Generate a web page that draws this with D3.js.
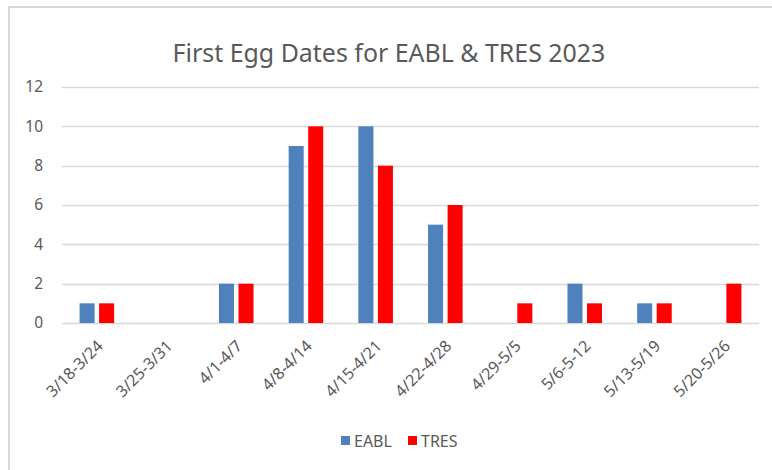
<!DOCTYPE html>
<html><head><meta charset="utf-8">
<script src="https://cdn.jsdelivr.net/npm/d3@7"></script>
<style>body{margin:0;background:#fff}svg{display:block}text{font-family:"Noto Sans",sans-serif;fill:#595959}</style>
</head><body>
<svg id="c" width="772" height="470"></svg>
<script>
const categories = ["3/18-3/24","3/25-3/31","4/1-4/7","4/8-4/14","4/15-4/21","4/22-4/28","4/29-5/5","5/6-5-12","5/13-5/19","5/20-5/26"];
const seriesNames = ["EABL","TRES"];
const eablValues = [1,0,2,9,10,5,0,2,1,0];
const tresValues = [1,0,2,10,8,6,1,1,1,2];
const yTicks = [0,2,4,6,8,10,12];
const colors = ["#4F81BD","#FF0000"];
const titleText = "First Egg Dates for EABL & TRES 2023";

(function(){
const svg = d3.select("#c");
svg.append("rect").attr("width",772).attr("height",470).attr("fill","#fff");
svg.append("path").attr("d","M9,470 V7 H772").attr("fill","none").attr("stroke","#d9d9d9").attr("stroke-width",2);

const pL=62, pR=759, pT=87, pB=323;
const x = d3.scaleBand().domain(categories).range([pL,pR]).paddingInner(0).paddingOuter(0);
const y = d3.scaleLinear().domain([0,12]).range([pB,pT]);
const x1 = d3.scaleBand().domain(seriesNames).range([0,x.bandwidth()]).paddingInner(0.23).paddingOuter(0.9);

svg.append("g").selectAll("line").data(yTicks).join("line")
  .attr("x1",pL).attr("x2",pR)
  .attr("y1",d=>Math.round(y(d))+0.5).attr("y2",d=>Math.round(y(d))+0.5)
  .attr("stroke","#d9d9d9").attr("stroke-width",1.5);

const yAxis = d3.axisLeft(y).tickValues(yTicks).tickSize(0).tickPadding(0);
const gy = svg.append("g").attr("transform",`translate(43,0)`).call(yAxis);
gy.attr("font-size",null).attr("font-family",null);
gy.select(".domain").remove();
gy.selectAll("text").attr("font-size",15.5).attr("fill","#595959").style("font-family","Noto Sans");

const data = categories.map((c,i)=>({c, vals:[eablValues[i],tresValues[i]]}));
const groups = svg.append("g").selectAll("g").data(data).join("g")
  .attr("transform",d=>`translate(${x(d.c)},0)`);
groups.selectAll("rect").data(d=>d.vals.map((v,j)=>({v,s:seriesNames[j],j}))).join("rect")
  .attr("x",d=>x1(d.s)).attr("width",x1.bandwidth())
  .attr("y",d=>y(d.v)).attr("height",d=>pB-y(d.v))
  .attr("fill",d=>colors[d.j]);

const xAxis = d3.axisBottom(x).tickSize(0).tickPadding(0);
const gx = svg.append("g").attr("transform",`translate(0,${pB})`).call(xAxis);
gx.attr("font-size",null).attr("font-family",null);
gx.select(".domain").remove();
gx.selectAll("text").attr("font-size",16).attr("fill","#595959").style("font-family","Noto Sans")
  .attr("text-anchor","end").attr("dy",null).attr("y",0)
  .attr("transform","translate(7,24) rotate(-45)");

const t = svg.append("text").attr("x",389).attr("y",62).attr("text-anchor","middle")
  .attr("font-size",24).text(titleText);
const w = t.node().getComputedTextLength();
t.attr("font-size",24*433/w);

const lg = svg.append("g");
const legendX = [341,408];
seriesNames.forEach((s,i)=>{
  lg.append("rect").attr("x",legendX[i]).attr("y",436).attr("width",9).attr("height",9).attr("fill",colors[i]);
  lg.append("text").attr("x",legendX[i]+13).attr("y",446.5).attr("font-size",16).text(s);
});
})();
</script>
</body></html>
